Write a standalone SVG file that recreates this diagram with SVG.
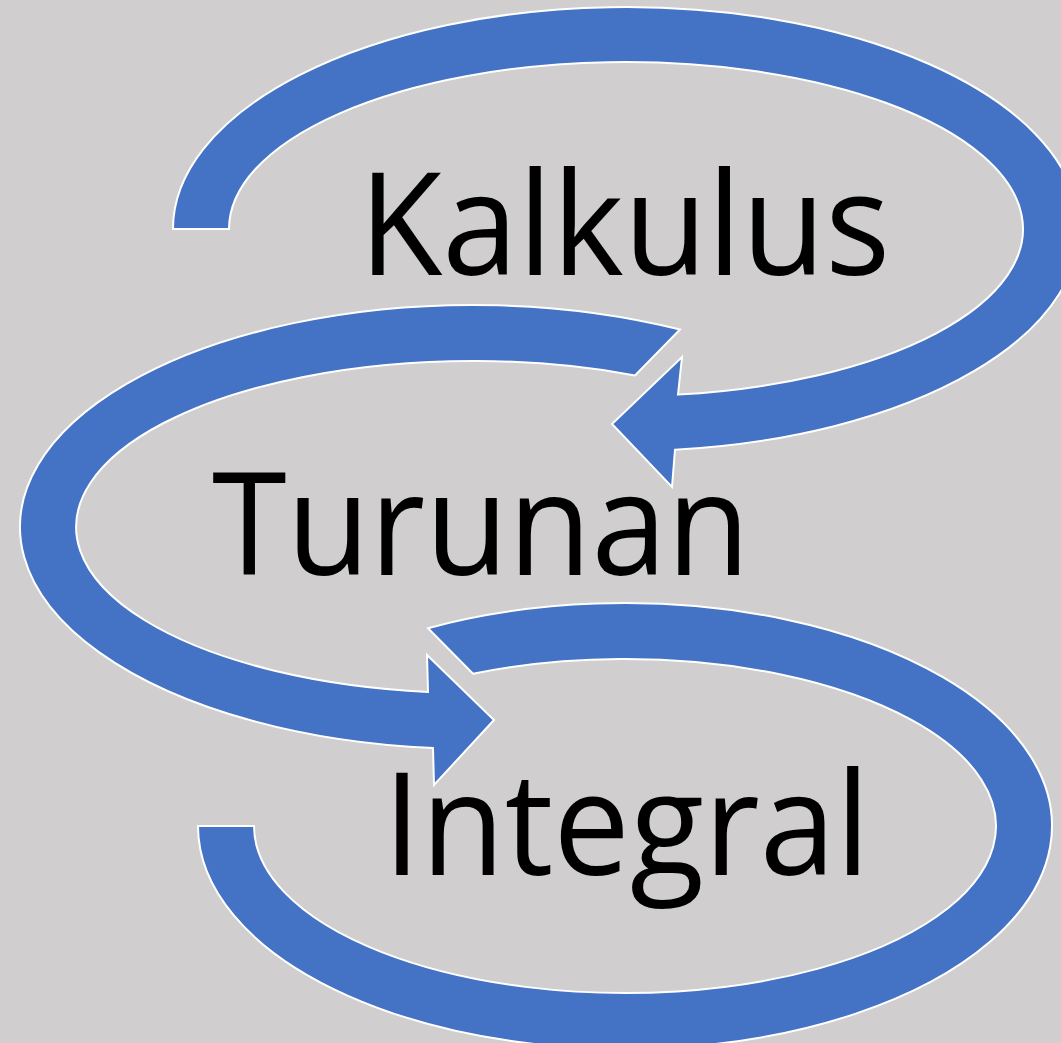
<svg xmlns="http://www.w3.org/2000/svg" width="1061" height="1043" viewBox="0 0 1061 1043">
  <style>
    .band { fill: #4472C4; stroke: #FFFFFF; stroke-width: 2; stroke-linejoin: miter; }
    .label { font-family: "Open Sans", "Noto Sans", "Liberation Sans", sans-serif; font-size: 143px; fill: #000000; }
  </style>
  <rect x="0" y="0" width="1061" height="1043" fill="#D0CECE"/>

  <!-- curved arrows linking the three terms -->
  <g id="connectors">
    <!-- top loop: flat tail at left, head pointing left toward the middle term -->
    <path id="arrow-kalkulus" class="band"
      d="M173,229 A453,222 0 1 1 675,449.7 L672,487 L612,424 L682,357 L678,394.6 A397,167 0 1 0 229,229 Z"/>
    <!-- middle loop: slanted tail at upper right, head pointing right toward the bottom term -->
    <path id="arrow-turunan" class="band"
      d="M680,329.5 A453,222 0 1 0 433,748.1 L434,785 L494,720 L427,655 L428,691.9 A397,166 0 1 1 635,375.4 Z"/>
    <!-- bottom loop: slanted start at upper left, flat end at lower left -->
    <path id="arrow-integral" class="band"
      d="M428,628.2 A427,223 0 1 1 198,826 L254,826 A371,167 0 1 0 473,673.7 Z"/>
  </g>

  <g id="node-kalkulus">
    <text class="label" x="359" y="275" textLength="531" lengthAdjust="spacingAndGlyphs">Kalkulus</text>
  </g>
  <g id="node-turunan">
    <text class="label" x="212" y="575" textLength="538" lengthAdjust="spacingAndGlyphs">Turunan</text>
  </g>
  <g id="node-integral">
    <text class="label" x="383" y="875" textLength="487" lengthAdjust="spacingAndGlyphs">Integral</text>
  </g>
</svg>
